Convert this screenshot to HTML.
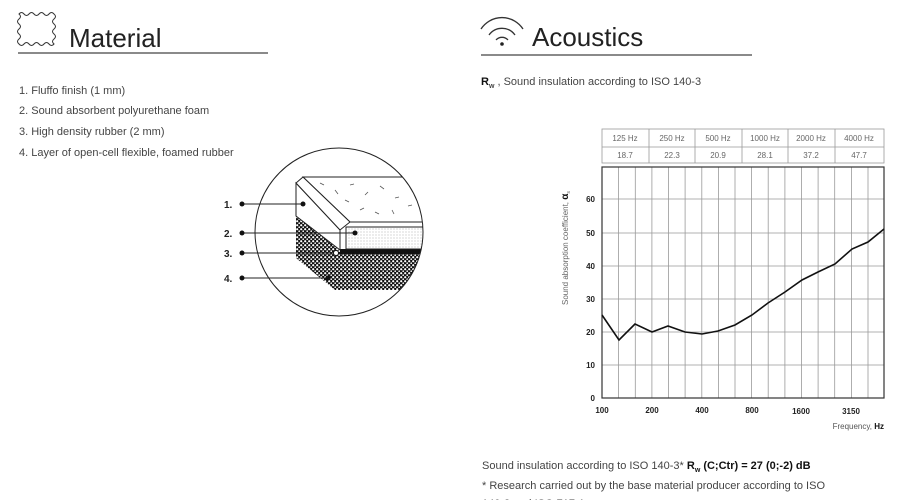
<!DOCTYPE html>
<html><head><meta charset="utf-8"><style>
html,body{margin:0;padding:0;background:#fff;width:903px;height:500px;overflow:hidden}
svg{display:block}
text{font-family:"Liberation Sans",sans-serif}
</style></head><body>
<svg width="903" height="500" viewBox="0 0 903 500">
<defs>
<pattern id="dots" width="4" height="4" patternUnits="userSpaceOnUse">
<rect width="4" height="4" fill="#111"/><circle cx="1.2" cy="1.2" r="1.1" fill="#fff"/><circle cx="3.2" cy="3.2" r="0.9" fill="#eee"/>
</pattern>
<pattern id="fine" width="3" height="3" patternUnits="userSpaceOnUse">
<rect width="3" height="3" fill="#fff"/><circle cx="1" cy="1" r="0.5" fill="#999"/>
</pattern>
<clipPath id="cc"><circle cx="339" cy="232" r="84"/></clipPath>
</defs>

<path d="M19 14 q2.5 -3 5 0 t5 0 t5 0 t5 0 t5 0 t5 0 t5 0 q3 2.5 0 5 t0 5 t0 5 t0 5 t0 5 t0 5 q-2.5 3 -5 0 t-5 0 t-5 0 t-5 0 t-5 0 t-5 0 t-5 0 q-3 -2.5 0 -5 t0 -5 t0 -5 t0 -5 t0 -5 t0 -5z" fill="none" stroke="#333" stroke-width="1"/>
<text x="69" y="47" font-size="26" fill="#222">Material</text>
<line x1="18" y1="53" x2="268" y2="53" stroke="#444" stroke-width="1.2"/>
<g font-size="11" fill="#444">
<text x="19" y="94">1. Fluffo finish (1 mm)</text>
<text x="19" y="114">2. Sound absorbent polyurethane foam</text>
<text x="19" y="135">3. High density rubber (2 mm)</text>
<text x="19" y="156">4. Layer of open-cell flexible, foamed rubber</text>
</g>

<g clip-path="url(#cc)">
<polygon points="296,185 340,252 430,254 430,290 335,290 296,258" fill="url(#dots)"/>
<polygon points="296,183 340,230 340,250 296,216" fill="#fff" stroke="#222" stroke-width="1"/>
<polygon points="303,177 430,177 430,222 350,222" fill="#fff" stroke="#222" stroke-width="1"/>
<polygon points="303,177 296,183 340,230 350,222" fill="#fff" stroke="#222" stroke-width="1"/>
<rect x="340" y="249" width="90" height="5" fill="#111"/>
<rect x="346" y="227" width="84" height="22" fill="url(#fine)" stroke="#222" stroke-width="1"/>
<line x1="340" y1="230" x2="340" y2="250" stroke="#222"/>
<g stroke="#555" stroke-width="0.8">
<line x1="320" y1="183" x2="324" y2="185"/><line x1="335" y1="190" x2="338" y2="194"/><line x1="350" y1="185" x2="354" y2="184"/><line x1="365" y1="195" x2="368" y2="192"/><line x1="380" y1="186" x2="384" y2="189"/><line x1="395" y1="198" x2="399" y2="197"/><line x1="410" y1="185" x2="411" y2="189"/><line x1="360" y1="210" x2="364" y2="208"/><line x1="375" y1="212" x2="379" y2="214"/><line x1="392" y1="210" x2="394" y2="214"/><line x1="408" y1="206" x2="412" y2="205"/><line x1="345" y1="200" x2="349" y2="202"/>
</g>
</g>
<circle cx="339" cy="232" r="84" fill="none" stroke="#222" stroke-width="1"/>
<g font-size="10" font-weight="bold" fill="#222">
<text x="224" y="208">1.</text><text x="224" y="237">2.</text><text x="224" y="257">3.</text><text x="224" y="282">4.</text>
</g>
<g stroke="#222" stroke-width="1">
<line x1="242" y1="204" x2="303" y2="204"/><line x1="242" y1="233" x2="355" y2="233"/><line x1="242" y1="253" x2="336" y2="253"/><line x1="242" y1="278" x2="328" y2="278"/>
</g>
<g fill="#111"><circle cx="242" cy="204" r="2.5"/><circle cx="242" cy="233" r="2.5"/><circle cx="242" cy="253" r="2.5"/><circle cx="242" cy="278" r="2.5"/>
<circle cx="303" cy="204" r="2.5"/><circle cx="355" cy="233" r="2.5"/><circle cx="328" cy="278" r="2.5"/></g>
<circle cx="336" cy="253" r="2.5" fill="#fff" stroke="#111"/>

<g fill="none" stroke="#333" stroke-width="1.3">
<path d="M496 40 A8 8 0 0 1 508 40"/><path d="M489 35 A16 16 0 0 1 515 35"/><path d="M481 29 A25 25 0 0 1 523 29"/>
</g>
<circle cx="502" cy="44" r="1.8" fill="#222"/>
<text x="532" y="46" font-size="26" fill="#222">Acoustics</text>
<line x1="481" y1="55" x2="752" y2="55" stroke="#444" stroke-width="1.2"/>
<text x="481" y="85" font-size="11" fill="#444"><tspan font-weight="bold" fill="#111">R</tspan><tspan font-size="7" dy="3" font-weight="bold">w</tspan><tspan dy="-3"> , Sound insulation according to ISO 140-3</tspan></text>

<g stroke="#999" stroke-width="0.8" fill="none">
<rect x="602" y="129" width="282" height="34"/><line x1="602" y1="147" x2="884" y2="147"/>
<line x1="649" y1="129" x2="649" y2="163"/><line x1="695" y1="129" x2="695" y2="163"/><line x1="742" y1="129" x2="742" y2="163"/><line x1="788" y1="129" x2="788" y2="163"/><line x1="835" y1="129" x2="835" y2="163"/>
</g>
<g font-size="8" fill="#666" text-anchor="middle">
<text x="625" y="141">125 Hz</text><text x="672" y="141">250 Hz</text><text x="718" y="141">500 Hz</text><text x="765" y="141">1000 Hz</text><text x="811" y="141">2000 Hz</text><text x="859" y="141">4000 Hz</text>
<text x="625" y="158">18.7</text><text x="672" y="158">22.3</text><text x="718" y="158">20.9</text><text x="765" y="158">28.1</text><text x="811" y="158">37.2</text><text x="859" y="158">47.7</text>
</g>

<g stroke="#999" stroke-width="0.8">
<line x1="618.6" y1="167" x2="618.6" y2="398"/><line x1="635.3" y1="167" x2="635.3" y2="398"/><line x1="651.9" y1="167" x2="651.9" y2="398"/><line x1="668.5" y1="167" x2="668.5" y2="398"/><line x1="685.1" y1="167" x2="685.1" y2="398"/><line x1="701.8" y1="167" x2="701.8" y2="398"/><line x1="718.4" y1="167" x2="718.4" y2="398"/><line x1="735" y1="167" x2="735" y2="398"/><line x1="751.6" y1="167" x2="751.6" y2="398"/><line x1="768.2" y1="167" x2="768.2" y2="398"/><line x1="784.9" y1="167" x2="784.9" y2="398"/><line x1="801.5" y1="167" x2="801.5" y2="398"/><line x1="818.1" y1="167" x2="818.1" y2="398"/><line x1="834.7" y1="167" x2="834.7" y2="398"/><line x1="851.4" y1="167" x2="851.4" y2="398"/><line x1="868" y1="167" x2="868" y2="398"/>
<line x1="602" y1="365" x2="884" y2="365"/><line x1="602" y1="332" x2="884" y2="332"/><line x1="602" y1="299" x2="884" y2="299"/><line x1="602" y1="266" x2="884" y2="266"/><line x1="602" y1="233" x2="884" y2="233"/><line x1="602" y1="199" x2="884" y2="199"/>
</g>
<rect x="602" y="167" width="282" height="231" fill="none" stroke="#333" stroke-width="1.2"/>
<polyline fill="none" stroke="#111" stroke-width="1.6" points="602,315 619,340 635,324 652,332 668,326 685,332 702,334 718,331 735,325 752,315 768,303 785,292 802,280 818,272 835,264 852,249 868,242 884,229"/>

<g font-size="8" font-weight="bold" fill="#222" text-anchor="end">
<text x="595" y="401">0</text><text x="595" y="368">10</text><text x="595" y="335">20</text><text x="595" y="302">30</text><text x="595" y="269">40</text><text x="595" y="236">50</text><text x="595" y="202">60</text>
</g>
<g font-size="8" font-weight="bold" fill="#222" text-anchor="middle">
<text x="602" y="413">100</text><text x="652" y="413">200</text><text x="702" y="413">400</text><text x="752" y="413">800</text><text x="801" y="414">1600</text><text x="851" y="414">3150</text>
</g>
<text x="884" y="429" font-size="8" fill="#555" text-anchor="end">Frequency, <tspan font-weight="bold" fill="#111">Hz</tspan></text>
<text transform="translate(568,305) rotate(-90)" font-size="8" fill="#666">Sound absorption coefficient, <tspan font-weight="bold" font-size="10" fill="#111">α</tspan><tspan font-size="5" dy="2">s</tspan></text>

<text x="482" y="469" font-size="11" fill="#444">Sound insulation according to ISO 140-3* <tspan font-weight="bold" fill="#111">R</tspan><tspan font-weight="bold" font-size="7" dy="3" fill="#111">w</tspan><tspan dy="-3" font-weight="bold" fill="#111"> (C;Ctr) = 27 (0;-2) dB</tspan></text>
<text x="482" y="489" font-size="11" fill="#444">* Research carried out by the base material producer according to ISO</text>
<text x="482" y="507" font-size="11" fill="#444">140-3 and ISO 717-1</text>
</svg>
</body></html>
